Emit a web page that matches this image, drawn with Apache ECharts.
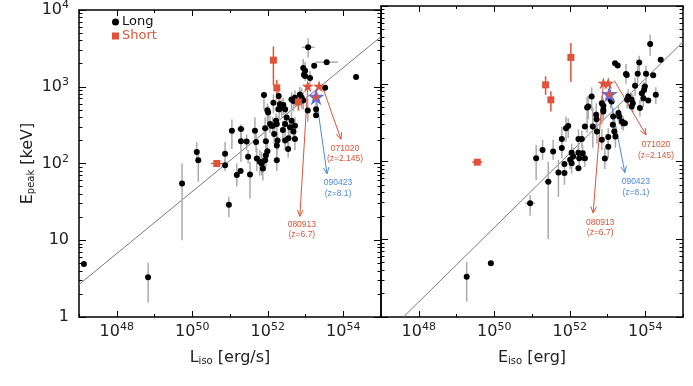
<!DOCTYPE html>
<html><head><meta charset="utf-8">
<script src="https://cdn.jsdelivr.net/npm/echarts@6/dist/echarts.min.js"></script>
<style>html,body{margin:0;padding:0;background:#fff}#c{width:693px;height:386px}</style>
</head><body><div id="c"></div>
<script>
// ---------- DATA (x = log10 of L_iso / E_iso, y = E_peak keV) ----------
// point rows: [log10 X, Epeak, Epeak low, Epeak high, x half-error (dex)]
const leftLong = [
[47.13,4.9,0,0,0.05],[48.83,3.3,1.55,5.1,0],[49.73,55,10,100,0],[50.12,141,105,190,0],[50.16,110,58,150,0],
[50.87,134,100,190,0],[50.87,95,80,112,0],[50.97,29,20,37,0],[51.05,268,155,375,0.08],[51.18,71,50,100,0],
[51.29,281,207,324,0.1],[51.29,195,105,278,0],[51.28,80,0,0,0.05],[51.53,72,35,105,0],[51.44,194,150,240,0],
[51.48,122,100,150,0],[51.66,268,170,400,0],[51.69,190,140,260,0],[51.71,116,80,160,0],[51.79,105,70,150,0],
[51.84,100,70,140,0],[51.87,86,60,120,0],[51.90,780,500,830,0],[51.93,287,200,400,0],[51.95,195,150,260,0],
[51.99,144,110,190,0],[51.95,128,90,170,0],[51.93,110,80,150,0],[51.99,494,350,600,0],[52.01,462,330,560,0],
[52.06,326,250,420,0],[52.13,311,240,400,0],[52.15,621,450,800,0],[52.22,361,280,450,0],[52.17,243,180,320,0],
[52.24,110,80,150,0],[52.26,199,150,260,0],[52.29,757,550,950,0],[52.30,509,380,650,0],[52.32,590,450,750,0],
[52.41,580,430,720,0.08],[52.28,509,0,0,0],[52.37,535,400,680,0],[52.46,509,400,640,0],[52.63,684,500,850,0.1],
[52.68,653,480,800,0],[52.72,720,560,900,0],[52.90,720,520,950,0],[52.94,664,500,850,0],[52.85,794,600,1000,0],
[52.10,311,0,0,0],[52.24,326,240,420,0],[52.46,326,250,420,0],[52.50,398,300,520,0],[52.63,361,270,480,0],
[52.72,311,230,400,0],[52.59,296,220,380,0],[52.72,209,150,280,0],[52.46,199,150,260,0],[52.24,172,130,230,0],
[52.54,155,120,200,0],[52.55,213,160,290,0],[52.68,261,200,340,0],[52.40,273,200,360,0],[53.07,3260,2400,4300,0.17],
[53.56,2090,0,0,0.3],[52.94,1750,1300,2300,0],[52.99,1615,1200,2100,0],[52.96,1435,0,0,0],[53.23,1875,0,0,0],
[52.99,1380,0,0,0],[53.12,1300,1000,1600,0],[54.34,1340,0,0,0],[53.52,968,0,0,0],[53.28,509,400,640,0],
[53.28,426,0,0,0],[53.06,490,350,700,0]
];
const leftShort = [[50.65,100,0,0,0.15],[52.15,2220,1050,3360,0],[52.24,968,680,1230,0],[52.81,634,490,700,0]];
const leftRedStars = [[53.06,1018],[53.36,1018]];
const leftBlueStar = [[53.28,741]];
const leftFit = [[47,2.65],[55,4500]];

const rightLong = [
[49.27,3.3,1.57,5.1,0],[49.91,4.9,0,0,0],[50.95,29,20,37,0.13],[51.43,55,10,99,0.1],[51.11,110,58,163,0],
[51.28,141,105,190,0],[51.56,134,105,190,0],[51.79,194,128,280,0],[51.79,149,110,190,0],[51.90,268,180,380,0],
[51.96,287,200,360,0],[52.05,130,100,170,0],[51.70,72,35,105,0],[51.86,71,50,100,0],[51.86,93,0,0,0],
[52.01,105,80,140,0],[52.05,95,70,125,0],[52.23,195,130,260,0],[52.23,130,100,170,0],[52.23,82,0,0,0],
[52.09,116,90,150,0],[52.25,110,85,140,0],[52.32,194,150,250,0],[52.34,128,100,165,0],[52.40,110,85,140,0],
[52.46,494,235,680,0],[52.61,281,150,500,0],[52.70,398,220,560,0],[52.71,350,260,450,0],[52.85,562,300,700,0],
[52.89,520,400,650,0],[52.89,462,350,600,0],[52.89,439,330,560,0],[52.93,109,80,150,0],[52.85,190,140,260,0],
[53.02,155,110,210,0],[53.02,206,160,270,0],[53.08,621,480,780,0],[53.11,590,0,0,0],[53.15,378,290,480,0],
[53.14,296,230,380,0],[53.18,243,190,310,0],[53.21,209,150,300,0],[53.20,1840,0,0,0],[53.27,1715,0,0,0],
[53.29,419,330,530,0],[53.31,378,300,470,0],[53.38,326,260,400,0],[53.42,311,250,380,0],[53.46,311,0,0,0],
[53.49,1330,1000,1800,0],[53.51,1300,0,0,0],[53.52,621,480,780,0],[53.55,684,520,850,0],[53.64,621,480,780,0],
[53.67,562,430,720,0],[53.64,509,0,0,0],[53.80,1340,1000,1700,0],[53.84,1875,1400,2300,0],[53.73,940,700,1200,0],
[53.91,757,580,950,0],[53.95,653,500,820,0],[53.99,920,0,0,0],[54.02,1340,1000,1700,0],[53.97,834,640,1050,0],
[54.08,608,0,0,0],[54.13,3240,2300,4300,0],[54.21,1290,0,0,0],[54.28,720,550,900,0],[54.41,2030,0,0,0],
[53.86,486,380,620,0],[52.58,684,450,900,0],[52.49,509,350,700,0],[52.40,281,0,0,0],[52.72,243,170,330,0]
];
const rightShort = [[49.55,98,0,0,0.13],[51.36,968,720,1250,0],[51.50,621,440,800,0],[52.03,2180,1050,3340,0]];
const rightRedStars = [[52.89,1018],[53.02,1018]];
const rightBlueStar = [[53.05,740]];
const rightFit = [[47.594,1],[55,3470]];

// annotations: label, arrow start, arrow end
const leftNotes = [
  {label:'071020\n(z=2.145)', from:[53.45,1000], to:[53.94,207], c:'red', dx:4, dy:4},
  {label:'090423\n(z=8.1)', from:[53.28,741], to:[53.57,73.5], c:'blue', dx:11, dy:4},
  {label:'080913\n(z=6.7)', from:[53.06,1018], to:[52.85,20.5], c:'red', dx:2, dy:3}
];
const rightNotes = [
  {label:'071020\n(z=2.145)', from:[53.18,1100], to:[54.02,220], c:'red', dx:10, dy:5},
  {label:'090423\n(z=8.1)', from:[53.05,740], to:[53.46,72], c:'blue', dx:11, dy:4},
  {label:'080913\n(z=6.7)', from:[52.89,1018], to:[52.62,21.8], c:'red', dx:7, dy:4}
];

const xMajor = [48,50,52,54];
const xMinor = [47,49,51,53,55];
const yMajor = [1,10,100,1000,10000];
const yMinor = [2,3,4,5,6,7,8,9,20,30,40,50,60,70,80,90,200,300,400,500,600,700,800,900,2000,3000,4000,5000,6000,7000,8000,9000];

// ---------- STYLE ----------
const RED = '#e0533a', BLUE = '#4a8be0', STARBLUE = '#6670d8', GREY = '#ababab';
const FONT = 'DejaVu Sans';
const TXT = '#222';
const colorOf = {red: RED, blue: BLUE};

const grids = [
  {left:79, top:6, width:302, height:311},
  {left:381, top:6, width:302, height:311}
];

const xAxes = [], yAxes = [];
const rich = {
  b: {fontSize:16, fontFamily:FONT, color:TXT, lineHeight:20, verticalAlign:'middle'},
  sup: {fontSize:11, fontFamily:FONT, color:TXT, lineHeight:9, verticalAlign:'top'},
  sub: {fontSize:10, fontFamily:FONT, color:TXT, lineHeight:9, verticalAlign:'bottom'}
};
function addX(g, pos, vals, len, extra) {
  xAxes.push(Object.assign({
    type:'value', gridIndex:g, position:pos, min:47, max:55,
    axisLine:{show:false, onZero:false}, splitLine:{show:false},
    axisTick:{show:true, inside:true, length:len, customValues:vals, lineStyle:{color:'#000', width:1}},
    axisLabel:{show:false}
  }, extra || {}));
  return xAxes.length - 1;
}
function addY(g, pos, vals, len, extra) {
  yAxes.push(Object.assign({
    type:'log', logBase:10, gridIndex:g, position:pos, min:1, max:10000,
    axisLine:{show:false, onZero:false}, splitLine:{show:false},
    axisTick:{show:true, inside:true, length:len, customValues:vals, lineStyle:{color:'#000', width:1}},
    axisLabel:{show:false}
  }, extra || {}));
  return yAxes.length - 1;
}
const axisLineOn = {show:true, onZero:false, lineStyle:{color:'#000', width:1.5}};
const xNames = ['L{sub|iso} [erg/s]', 'E{sub|iso} [erg]'];
const mainX = [], mainY = [];
grids.forEach((g, i) => {
  mainX.push(addX(i, 'bottom', xMajor, 6, {
    axisLine: axisLineOn,
    axisLabel: {show:true, customValues:xMajor, margin:5, formatter: v => '{b|10}{sup|' + v + '}', rich: rich},
    name: xNames[i], nameLocation:'middle', nameGap:33,
    nameTextStyle: {rich: rich, fontSize:16, fontFamily:FONT, color:TXT, verticalAlign:'top'}
  }));
  addX(i, 'bottom', xMinor, 3);
  addX(i, 'top', xMajor, 6, {axisLine: axisLineOn});
  addX(i, 'top', xMinor, 3);
  const yExtra = {axisLine: axisLineOn};
  if (i === 0) {
    Object.assign(yExtra, {
      axisLabel: {show:true, customValues:yMajor, margin:10,
        formatter: v => v === 1 ? '{b|1}' : v === 10 ? '{b|10}' : '{b|10}{sup|' + Math.round(Math.log10(v)) + '}', rich: rich},
      name: 'E{sub|peak} [keV]', nameLocation:'middle', nameGap:43, nameRotate:90,
      nameTextStyle: {rich: rich, fontSize:16, fontFamily:FONT, color:TXT}
    });
  }
  mainY.push(addY(i, 'left', yMajor, 7, yExtra));
  addY(i, 'left', yMinor, 3.5);
  addY(i, 'right', yMajor, 7, {axisLine: axisLineOn});
  addY(i, 'right', yMinor, 3.5);
});

function errSeries(list, xi, yi, color) {
  return {
    type:'custom', xAxisIndex:xi, yAxisIndex:yi, z:1, silent:true, encode:{x:0, y:1},
    data: list.map(d => d.slice()),
    renderItem: (params, api) => {
      const x = api.value(0), y = api.value(1), lo = api.value(2), hi = api.value(3), xe = api.value(4);
      const ch = [];
      if (lo > 0 && hi > 0) {
        const a = api.coord([x, lo]), b = api.coord([x, hi]);
        ch.push({type:'line', shape:{x1:a[0], y1:a[1], x2:b[0], y2:b[1]}, style:{stroke:color, lineWidth:1.5}});
      }
      if (xe > 0) {
        const a = api.coord([x - xe, y]), b = api.coord([x + xe, y]);
        ch.push({type:'line', shape:{x1:a[0], y1:a[1], x2:b[0], y2:b[1]}, style:{stroke:color, lineWidth:1.5}});
      }
      return {type:'group', children:ch};
    }
  };
}
function arrowSeries(list, xi, yi) {
  return {
    type:'custom', xAxisIndex:xi, yAxisIndex:yi, z:3, silent:true, encode:{x:[0,2], y:[1,3]},
    data: list.map(a => [a.from[0], a.from[1], a.to[0], a.to[1]]),
    renderItem: (params, api) => {
      const a = list[params.dataIndex];
      const col = colorOf[a.c];
      const p0 = api.coord([api.value(0), api.value(1)]);
      const p1 = api.coord([api.value(2), api.value(3)]);
      const ang = Math.atan2(p1[1] - p0[1], p1[0] - p0[0]);
      const L = 7, w = 0.42;
      const h1 = [p1[0] - L * Math.cos(ang - w), p1[1] - L * Math.sin(ang - w)];
      const h2 = [p1[0] - L * Math.cos(ang + w), p1[1] - L * Math.sin(ang + w)];
      return {type:'group', children:[
        {type:'line', shape:{x1:p0[0], y1:p0[1], x2:p1[0], y2:p1[1]}, style:{stroke:col, lineWidth:1}},
        {type:'polyline', shape:{points:[h1, p1, h2]}, style:{stroke:col, lineWidth:1, fill:null}},
        {type:'text', x:p1[0] + a.dx, y:p1[1] + a.dy, style:{text:a.label, fill:col, fontSize:8.5, fontFamily:'Liberation Sans', align:'center', verticalAlign:'top', lineHeight:10.5}}
      ]};
    }
  };
}

const STAR = 'path://M50,0 L61.8,35.3 L98.9,35.3 L68.9,57.1 L80.3,92.7 L50,70.9 L19.7,92.7 L31.1,57.1 L1.1,35.3 L38.2,35.3 Z';
const series = [];
[[leftLong, leftShort, leftRedStars, leftBlueStar, leftFit, leftNotes],
 [rightLong, rightShort, rightRedStars, rightBlueStar, rightFit, rightNotes]].forEach((P, i) => {
  const xi = mainX[i], yi = mainY[i];
  const [lng, sht, rs, bs, fit, notes] = P;
  series.push({type:'line', xAxisIndex:xi, yAxisIndex:yi, data:fit, showSymbol:false, silent:true, z:0,
    lineStyle:{color:'#7a7a7a', width:1}});
  series.push(errSeries(lng, xi, yi, GREY));
  series.push(errSeries(sht, xi, yi, RED));
  series.push(arrowSeries(notes, xi, yi));
  series.push({type:'scatter', name:'Long', xAxisIndex:xi, yAxisIndex:yi, z:4, silent:true,
    symbol:'circle', symbolSize:6, itemStyle:{color:'#000', opacity:1}, data: lng.map(d => [d[0], d[1]])});
  series.push({type:'scatter', name:'Short', xAxisIndex:xi, yAxisIndex:yi, z:4, silent:true,
    symbol:'rect', symbolSize:7, itemStyle:{color:RED, opacity:1}, data: sht.map(d => [d[0], d[1]])});
  series.push({type:'scatter', xAxisIndex:xi, yAxisIndex:yi, z:5, silent:true,
    symbol:STAR, symbolSize:12, itemStyle:{color:RED, opacity:1}, data: rs});
  series.push({type:'scatter', xAxisIndex:xi, yAxisIndex:yi, z:6, silent:true,
    symbol:STAR, symbolSize:17, itemStyle:{color:STARBLUE, opacity:1}, data: bs});
  series.push({type:'scatter', xAxisIndex:xi, yAxisIndex:yi, z:7, silent:true,
    symbol:STAR, symbolSize:9, itemStyle:{color:RED, opacity:1}, data: bs});
});

const chart = echarts.init(document.getElementById('c'), null, {renderer:'canvas'});
chart.setOption({
  animation:false,
  backgroundColor:'#fff',
  grid: grids,
  xAxis: xAxes,
  yAxis: yAxes,
  legend: {
    orient:'vertical', left:112, top:15, itemWidth:7, itemHeight:7, itemGap:0, padding:0,
    selectedMode:false,
    textStyle:{fontSize:13, fontFamily:FONT, lineHeight:14, padding:[0,0,0,-2]},
    data:[{name:'Long', textStyle:{color:'#111'}}, {name:'Short', textStyle:{color:RED}}]
  },
  series: series
});
</script></body></html>
